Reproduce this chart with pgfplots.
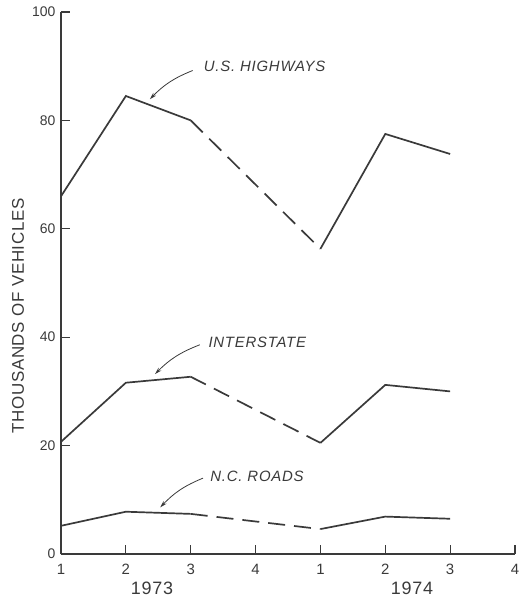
\documentclass[border=0pt]{standalone}
\usepackage{fontspec}
\setmainfont{Liberation Sans}
\newfontfamily\annotfont[LetterSpace=5]{Liberation Sans}
\newfontfamily\labfont[LetterSpace=4]{Liberation Sans}
\usepackage{pgfplots}
\pgfplotsset{compat=1.18}
\usetikzlibrary{arrows.meta}
\definecolor{ink}{HTML}{3A3A3A}
\begin{document}
\begin{tikzpicture}[x=1bp,y=1bp]
\begin{axis}[
  at={(0,0)}, anchor=south west,
  scale only axis, width=454bp, height=542bp,
  xmin=0, xmax=7, ymin=0, ymax=100,
  axis lines=left,
  axis line style={ink, line width=1.3bp, -},
  xtick={0,1,2,3,4,5,6,7},
  xticklabels={1,2,3,4,1,2,3,4},
  ytick={0,20,40,60,80,100},
  tick align=inside,
  major tick length=9bp,
  tick style={ink, line width=1.2bp},
  /pgf/number format/assume math mode=true,
  xticklabel style={font=\fontsize{15}{15}\selectfont, text=ink, yshift=-7bp},
  yticklabel style={font=\fontsize{14}{14}\selectfont, text=ink, xshift=-2bp},
  clip=false,
]
% U.S. Highways
\addplot[ink, line width=1.7bp] coordinates {(0,66) (1,84.5) (2,80)};
\addplot[ink, line width=1.7bp, dash pattern=on 17bp off 9bp] coordinates {(2,80) (4,56.3)};
\addplot[ink, line width=1.7bp] coordinates {(4,56.3) (5,77.5) (6,73.8)};
% Interstate
\addplot[ink, line width=1.7bp] coordinates {(0,20.7) (1,31.6) (2,32.7)};
\addplot[ink, line width=1.7bp, dash pattern=on 17bp off 9bp] coordinates {(2,32.7) (4,20.5)};
\addplot[ink, line width=1.7bp] coordinates {(4,20.5) (5,31.2) (6,30)};
% N.C. Roads
\addplot[ink, line width=1.7bp] coordinates {(0,5.2) (1,7.8) (2,7.4)};
\addplot[ink, line width=1.7bp, dash pattern=on 17bp off 9bp] coordinates {(2,7.4) (4,4.6)};
\addplot[ink, line width=1.7bp] coordinates {(4,4.6) (5,6.9) (6,6.5)};
% annotations
\draw[ink, line width=0.8bp, -{Stealth[length=7bp,width=4bp]}] (axis cs:2.03,89.2) to[bend right=12] (axis cs:1.37,83.9);
\node[anchor=west, text=ink, font=\annotfont\itshape\fontsize{15}{15}\selectfont] at (axis cs:2.15,89.9) {U.S.\ HIGHWAYS};
\draw[ink, line width=0.8bp, -{Stealth[length=7bp,width=4bp]}] (axis cs:2.14,38.6) to[bend right=12] (axis cs:1.45,33.2);
\node[anchor=west, text=ink, font=\annotfont\itshape\fontsize{15}{15}\selectfont] at (axis cs:2.22,39) {INTERSTATE};
\draw[ink, line width=0.8bp, -{Stealth[length=7bp,width=4bp]}] (axis cs:2.19,14) to[bend right=12] (axis cs:1.53,8.6);
\node[anchor=west, text=ink, font=\annotfont\itshape\fontsize{15}{15}\selectfont] at (axis cs:2.25,14.4) {N.C.\ ROADS};
\end{axis}
\node[text=ink, font=\labfont\fontsize{18}{18}\selectfont] at (91,-34) {1973};
\node[text=ink, font=\labfont\fontsize{18}{18}\selectfont] at (351,-34) {1974};
\node[rotate=90, text=ink, font=\labfont\fontsize{17}{17}\selectfont] at (-43,238) {THOUSANDS OF VEHICLES};
\pgfresetboundingbox
\path[use as bounding box] (-61,-45) rectangle (461,554);
\end{tikzpicture}
\end{document}
